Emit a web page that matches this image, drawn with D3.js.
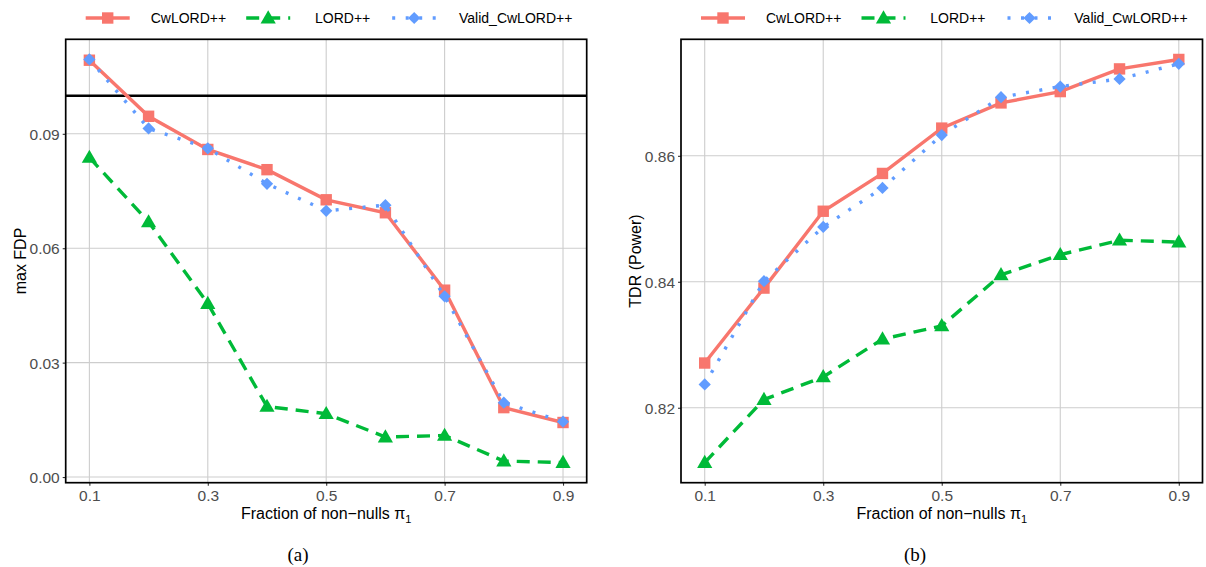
<!DOCTYPE html>
<html>
<head>
<meta charset="utf-8">
<script src="https://cdn.jsdelivr.net/npm/d3@7"></script>
<style>
  body { margin: 0; background: #fff; }
  svg { display: block; font-family: "Liberation Sans", Arial, sans-serif; }
</style>
</head>
<body>
<div id="chart"></div>
<script>
// Data
const fractions = [0.1, 0.2, 0.3, 0.4, 0.5, 0.6, 0.7, 0.8, 0.9];
const xTicks = [0.1, 0.3, 0.5, 0.7, 0.9];

const fdpCwLord = [0.1093, 0.0946, 0.0859, 0.0806, 0.0727, 0.0693, 0.0490, 0.0182, 0.0143];
const fdpLord   = [0.0838, 0.0669, 0.0455, 0.0185, 0.0166, 0.0105, 0.0109, 0.0042, 0.0038];
const fdpValid  = [0.1095, 0.0914, 0.0862, 0.0769, 0.0698, 0.0713, 0.0474, 0.0195, 0.0145];
const fdpTicks  = [0.00, 0.03, 0.06, 0.09];
const fdrLevel  = 0.1;

const tdrCwLord = [0.8271, 0.8390, 0.8512, 0.8572, 0.8644, 0.8684, 0.8702, 0.8738, 0.8753];
const tdrLord   = [0.8113, 0.8213, 0.8249, 0.8309, 0.8330, 0.8411, 0.8443, 0.8466, 0.8463];
const tdrValid  = [0.8237, 0.8401, 0.8487, 0.8549, 0.8633, 0.8693, 0.8710, 0.8722, 0.8746];
const tdrTicks  = [0.82, 0.84, 0.86];

const seriesNames = ['CwLORD++', 'LORD++', 'Valid_CwLORD++'];

// Styling
const STYLE = {
  CwLORD: { color: '#F8766D', dash: null, shape: 'square' },
  LORD: { color: '#00BA38', dash: '13,8', shape: 'triangle' },
  Valid: { color: '#619CFF', dash: '3,10.5', shape: 'diamond' }
};
const seriesStyles = [STYLE.CwLORD, STYLE.LORD, STYLE.Valid];

const W = 1206, H = 567;
const svg = d3.select('#chart').append('svg')
  .attr('width', W).attr('height', H);

// ggplot-like diamond (square turned 45 degrees)
const diamond = { draw(ctx, size) { const r = Math.sqrt(size / 2); ctx.moveTo(0, -r); ctx.lineTo(r, 0); ctx.lineTo(0, r); ctx.lineTo(-r, 0); ctx.closePath(); } };

const symbols = {
  square: d3.symbol().type(d3.symbolSquare).size(130),
  triangle: d3.symbol().type(d3.symbolTriangle).size(100),
  diamond: d3.symbol().type(diamond).size(75)
};

/**
 * Draw one panel with grid, lines, points and legend
 */
function drawPanel(opts) {
  const { left, right, top, bottom, series, yTicks, yFormat, yTitle, yTitleX, caption, captionX, hline } = opts;

  const all = series.flat();
  const [lo, hi] = d3.extent(all);
  const pad = (hi - lo) * 0.05;

  const x = d3.scaleLinear().domain([0.06, 0.94]).range([left, right]);
  const y = d3.scaleLinear().domain([lo - pad, hi + pad]).range([bottom, top]);

  const g = svg.append('g');

  // grid
  g.append('g').selectAll('line.gx').data(xTicks).join('line')
    .attr('x1', d => x(d)).attr('x2', d => x(d))
    .attr('y1', top).attr('y2', bottom)
    .attr('stroke', '#CDCDCD').attr('stroke-width', 1.1);
  g.append('g').selectAll('line.gy').data(yTicks).join('line')
    .attr('x1', left).attr('x2', right)
    .attr('y1', d => y(d)).attr('y2', d => y(d))
    .attr('stroke', '#CDCDCD').attr('stroke-width', 1.1);

  if (hline != null) {
    g.append('line')
      .attr('x1', left).attr('x2', right)
      .attr('y1', y(hline)).attr('y2', y(hline))
      .attr('stroke', '#000').attr('stroke-width', 2.4);
  }

  // axes
  const xAxis = g.append('g')
    .attr('transform', `translate(0,${bottom})`)
    .call(d3.axisBottom(x).tickValues(xTicks).tickSize(3).tickPadding(4).tickFormat(d3.format('.1f')));
  const yAxis = g.append('g')
    .attr('transform', `translate(${left},0)`)
    .call(d3.axisLeft(y).tickValues(yTicks).tickSize(3).tickPadding(3).tickFormat(d3.format(yFormat)));
  [xAxis, yAxis].forEach(a => {
    a.select('.domain').remove();
    a.selectAll('.tick line').attr('stroke', '#333').attr('stroke-width', 1.1);
    a.selectAll('.tick text')
      .attr('fill', '#4D4D4D')
      .style('font-size', '15.5px')
      .style('font-family', '"Liberation Sans", Arial, sans-serif');
  });
  yAxis.selectAll('.tick text').attr('dy', '0.36em');

  // series lines and points
  series.forEach((vals, i) => {
    const st = seriesStyles[i];
    const pts = fractions.map((f, j) => [f, vals[j]]);
    g.append('path')
      .datum(pts)
      .attr('fill', 'none')
      .attr('stroke', st.color)
      .attr('stroke-width', 3.4)
      .attr('stroke-dasharray', st.dash)
      .attr('d', d3.line().x(d => x(d[0])).y(d => y(d[1])));
    g.append('g').selectAll('path').data(pts).join('path')
      .attr('transform', d => `translate(${x(d[0])},${y(d[1]) + (st.shape === 'triangle' ? 1 : 0)})`)
      .attr('d', symbols[st.shape])
      .attr('fill', st.color);
  });

  // panel border
  g.append('rect')
    .attr('x', left).attr('y', top)
    .attr('width', right - left).attr('height', bottom - top)
    .attr('fill', 'none').attr('stroke', '#000').attr('stroke-width', 1.7);

  // axis titles
  const xt = g.append('text')
    .attr('x', (left + right) / 2).attr('y', 519)
    .attr('text-anchor', 'middle')
    .style('font-size', '16px').attr('fill', '#000');
  xt.append('tspan').text('Fraction of non\u2212nulls \u03C0');
  xt.append('tspan').attr('dy', 4).style('font-size', '11px').text('1');

  g.append('text')
    .attr('transform', `translate(${yTitleX},${(top + bottom) / 2}) rotate(-90)`)
    .attr('text-anchor', 'middle')
    .attr('dy', '0.36em')
    .style('font-size', '16px').attr('fill', '#000')
    .text(yTitle);

  // legend
  const legendKeys = [42, 202.5, 348.5];
  const legendText = [85, 249.3, 393.3];
  const lg = g.append('g');
  seriesNames.forEach((name, i) => {
    const st = seriesStyles[i];
    const cx = left + legendKeys[i];
    lg.append('line')
      .attr('x1', cx - 22).attr('x2', cx + 22)
      .attr('y1', 18).attr('y2', 18)
      .attr('stroke', st.color).attr('stroke-width', 3.4)
      .attr('stroke-dasharray', st.dash);
    lg.append('path')
      .attr('transform', `translate(${cx},${18 + (st.shape === 'triangle' ? 1 : 0)})`)
      .attr('d', symbols[st.shape])
      .attr('fill', st.color);
    lg.append('text')
      .attr('x', left + legendText[i]).attr('y', 23)
      .style('font-size', '14px').attr('fill', '#000')
      .text(name);
  });

  // caption
  svg.append('text')
    .attr('x', captionX).attr('y', 561)
    .attr('text-anchor', 'middle')
    .style('font-family', '"Liberation Serif", "Times New Roman", serif')
    .style('font-size', '19px')
    .text(caption);
}

drawPanel({
  left: 65.7, right: 586.7, top: 39.3, bottom: 482.7,
  series: [fdpCwLord, fdpLord, fdpValid],
  yTicks: fdpTicks, yFormat: '.2f',
  yTitle: 'max FDP', yTitleX: 20.5,
  caption: '(a)', captionX: 298,
  hline: fdrLevel
});

drawPanel({
  left: 681, right: 1202.5, top: 39.3, bottom: 482.7,
  series: [tdrCwLord, tdrLord, tdrValid],
  yTicks: tdrTicks, yFormat: '.2f',
  yTitle: 'TDR (Power)', yTitleX: 635,
  caption: '(b)', captionX: 915,
  hline: null
});
</script>
</body>
</html>
